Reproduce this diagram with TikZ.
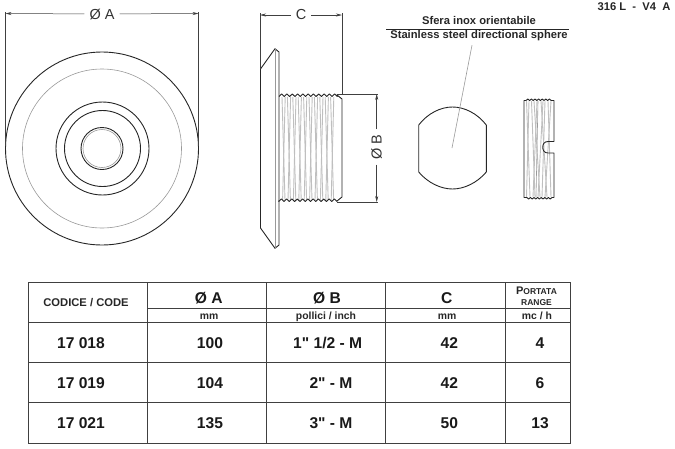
\documentclass[tikz,border=0pt]{standalone}
\usepackage{fontspec}
\setmainfont{Liberation Sans}[Ligatures=TeXOff]
\usetikzlibrary{arrows.meta, positioning}
\tikzset{
    part/.style={draw=black!85, line width=0.9pt, line join=round},
    hair/.style={draw=black!40, line width=0.6pt},
    threadline/.style={draw=black!25, line width=0.9pt},
    dim/.style={draw=black!75, line width=0.5pt},
    dimarrow/.style={dim, -{Stealth[length=6pt, width=3pt]}},
    grid/.style={draw=black!75, line width=1pt},
    dimlabel/.style={font=\fontsize{14.5}{16}\selectfont, inner sep=5pt, text=black!80},
    note/.style={font=\bfseries\fontsize{11.2}{13}\selectfont, inner sep=0pt, text=black!85},
    cell/.style={font=\bfseries\fontsize{15.6}{17}\selectfont, inner sep=0pt, text=black!90},
    unit/.style={font=\bfseries\fontsize{10.4}{12}\selectfont, inner sep=0pt, text=black!85, anchor=base},
    headtext/.style={font=\bfseries\fontsize{11.2}{13}\selectfont, inner sep=0pt, text=black!85}
}

\begin{document}
\begin{tikzpicture}[x=1pt, y=-1pt]
    \useasboundingbox (0,0) rectangle (675,448);

    \draw[part] (102,148.5) circle[radius=96.5];
    \draw[hair] (102,148.5) circle[radius=79.5];
    \draw[part] (102.5,148.5) circle[radius=46.5];
    \draw[part] (102.5,148.5) circle[radius=38];
    \draw[part] (102,148.5) circle[radius=21];
    \draw[hair] (102,148.5) circle[radius=19];

    \node[dimlabel] (labelA) at (102,14) {Ø A};
    \coordinate (dimAl) at (5.5,13.5);
    \coordinate (dimAr) at (198.5,13.5);
    \draw[dimarrow] (labelA) -- (dimAl);
    \draw[dimarrow] (labelA) -- (dimAr);
    \draw[dim] (5.5,12) -- (5.5,146);
    \draw[dim] (198.5,12) -- (198.5,146);

    \foreach \x in {282,287.4,...,334} {
        \draw[threadline] (\x,97) -- (\x+3,200);
        \draw[threadline] (\x+3.2,97) -- (\x+0.6,200);
    }
    \draw[part] (260.5,69) -- (275,48.7) -- (279,52) -- (279,245) -- (275,248.3) -- (260.5,228) -- cycle;
    \draw[hair] (275,49) -- (275,248);
    \draw[part] (279,96.5) \foreach \i in {1,...,11} { -- ++(2.65,-2.6) -- ++(2.65,2.6)} -- (337,95) -- (342,99) -- (342,197) -- (337,201) -- (337,201.5)
        \foreach \i in {1,...,11} { -- ++(-2.65,-2.6) -- ++(-2.65,2.6)} -- (279,200.5);

    \node[dimlabel] (labelC) at (301,15) {C};
    \coordinate (dimCl) at (260,15);
    \coordinate (dimCr) at (342,15);
    \draw[dimarrow] (labelC) -- (dimCl);
    \draw[dimarrow] (labelC) -- (dimCr);
    \draw[dim] (260,13) -- (260,69);
    \draw[dim] (342,13) -- (342,94);

    \node[dimlabel, rotate=90] (labelB) at (376.7,147) {Ø B};
    \coordinate (dimBt) at (376.7,94);
    \coordinate (dimBb) at (376.7,202);
    \draw[dimarrow] (labelB) -- (dimBt);
    \draw[dimarrow] (labelB) -- (dimBb);
    \draw[dim] (337,94) -- (378,94);
    \draw[dim] (337,202) -- (378,202);

    \node[note, anchor=base] (sferaIt) at (479,24.8) {Sfera inox orientabile};
    \node[note, anchor=base] (sferaEn) at (479,38.7) {Stainless steel directional sphere};
    \draw[dim, black!85] (386,29) -- (569,29);
    \node[note] (alloy) at (634,7) {316 L\ \ -\ \ V4\ \ A};

    \draw[part] (418.7,125) .. controls (428,113) and (441,107) .. (452.5,107) .. controls (464,107) and (477,113) .. (486.3,125)
        -- (486.3,172) .. controls (477,183) and (464,189) .. (452.5,189) .. controls (441,189) and (428,183) .. (418.7,172) -- cycle;
    \coordinate (sphere) at (452,148);
    \draw[hair] (sferaEn.south) ++(-7,4) -- (sphere);

    \foreach \xa/\xb in {526.5/530,529/526.5,531.5/535,534/540,537/533,541/547,543/538,545/542,548/551,551/545} {
        \draw[threadline] (\xa,101) -- (\xb,197);
    }
    \draw[hair] (538,101) -- (536,197);
    \draw[part] (554,141.5) -- (548,141.5) .. controls (544.5,141.5) and (542.7,144) .. (542.7,147.2) .. controls (542.7,150.5) and (544.5,153) .. (548,153) -- (554,153)
        -- (554,197.5) -- (552,197.5) \foreach \i in {1,...,7} { -- ++(-1.8,1.5) -- ++(-1.8,-1.5)} -- (524,197.5) -- (524,100.5) -- (526,100.5)
        \foreach \i in {1,...,7} { -- ++(1.8,-1.5) -- ++(1.8,1.5)} -- (554,100.5) -- cycle;

    \draw[grid] (28.7,282.7) rectangle (570,443.3);
    \foreach \x in {147.7,266.7,385.7,505} {
        \draw[grid] (\x,282.7) -- (\x,443.3);
    }
    \foreach \y in {322.7,362.7,402.7} {
        \draw[grid] (28.7,\y) -- (570,\y);
    }
    \draw[grid] (147.7,308.7) -- (570,308.7);

    \node[headtext] (headCode) at (86,303) {CODICE / CODE};
    \node[cell] (headA) at (208.7,298) {Ø A};
    \node[cell] (headB) at (327,298) {Ø B};
    \node[cell] (headC) at (446.7,298) {C};
    \node[headtext, align=center, font=\bfseries\fontsize{8.5}{11.3}\selectfont] (headRange) at (536.5,296.5) {{\fontsize{11}{11}\selectfont P}ORTATA\\RANGE};
    \node[unit] (unitA) at (209,319.3) {mm};
    \node[unit] (unitB) at (326,319.3) {pollici / inch};
    \node[unit] (unitC) at (447,319.3) {mm};
    \node[unit] (unitRange) at (537,319.3) {mc / h};

    \foreach \row/\y/\code/\diaA/\diaB/\xB/\len/\flow in {
        1/342.7/17 018/100/{1" 1/2 - M}/327.7/42/4,
        2/382.7/17 019/104/{2" - M}/331/42/6,
        3/423.3/17 021/135/{3" - M}/331/50/13} {
        \node[cell] (code\row) at (81,\y) {\code};
        \node[cell] (diaA\row) at (210,\y) {\diaA};
        \node[cell] (diaB\row) at (\xB,\y) {\diaB};
        \node[cell] (len\row) at (449.3,\y) {\len};
        \node[cell] (flow\row) at (540,\y) {\flow};
    }
\end{tikzpicture}
\end{document}
